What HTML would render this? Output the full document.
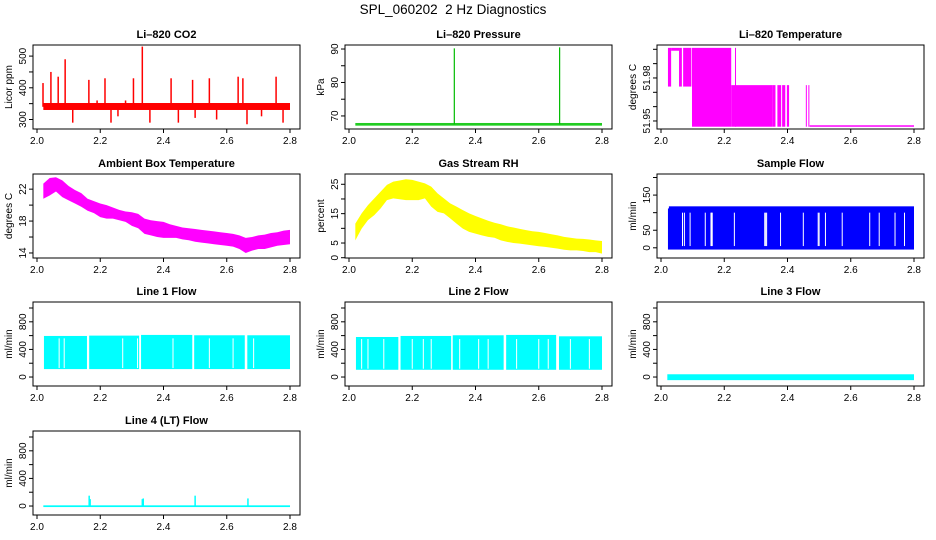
<!DOCTYPE html>
<html><head><meta charset="utf-8"><title>SPL_060202 2 Hz Diagnostics</title>
<style>
html,body{margin:0;padding:0;background:#fff;}
svg{display:block;font-family:"Liberation Sans",Arial,sans-serif;}
.tl{font-size:10px;fill:#000;}
.pt{font-size:11px;font-weight:bold;fill:#000;}
</style></head>
<body>
<svg id="chart" width="936" height="540" viewBox="0 0 936 540" xmlns="http://www.w3.org/2000/svg">
<rect x="0" y="0" width="936" height="540" fill="#fff"/>
<text x="453" y="14" text-anchor="middle" font-size="13.5">SPL_060202&#160;&#160;2 Hz Diagnostics</text>
</svg>
<script>
// ---------- data ----------
const xTicks = [2.0, 2.2, 2.4, 2.6, 2.8];
const xTickLabels = ["2.0", "2.2", "2.4", "2.6", "2.8"];
const binX = [2.02,2.04,2.06,2.08,2.10,2.12,2.14,2.16,2.18,2.20,2.22,2.24,2.26,2.28,2.30,2.32,2.34,2.36,2.38,2.40,2.42,2.44,2.46,2.48,2.50,2.52,2.54,2.56,2.58,2.60,2.62,2.64,2.66,2.68,2.70,2.72,2.74,2.76,2.78,2.80];

// CO2
const co2Base = [2.02, 2.80, 330, 352];
const co2SpikeX = [2.019,2.044,2.067,2.089,2.113,2.164,2.19,2.215,2.234,2.256,2.28,2.305,2.333,2.357,2.424,2.447,2.492,2.50,2.545,2.568,2.636,2.651,2.664,2.71,2.756,2.778];
const co2SpikeV = [415,450,435,490,290,425,360,430,290,310,360,430,530,290,430,290,425,305,430,300,435,430,285,310,435,290];

// Pressure
const presBase = [2.02, 2.80, 67.1, 67.9];
const presSpikeX = [2.333, 2.666];
const presSpikeV = [90.2, 90.5];

// Li-820 temperature: segments [x0, x1, lo, hi]
const tempSegX0 = [2.022,2.032,2.057,2.070,2.098,2.234,2.222,2.352,2.368,2.383,2.398,2.458,2.466,2.47];
const tempSegX1 = [2.032,2.057,2.066,2.096,2.222,2.236,2.352,2.362,2.380,2.393,2.405,2.461,2.469,2.80];
const tempSegLo = [51.974,51.999,51.974,51.974,51.946,51.946,51.946,51.946,51.946,51.946,51.946,51.946,51.946,51.946];
const tempSegHi = [52.001,52.001,52.001,52.001,52.001,52.001,51.975,51.975,51.975,51.975,51.975,51.975,51.975,51.947];

// Ambient box temperature
const ambHi = [22.7,23.4,23.5,23.1,22.4,21.9,21.5,20.8,20.5,20.2,20.0,19.7,19.4,19.2,19.1,18.9,18.3,18.1,18.0,17.9,17.6,17.4,17.2,17.1,17.0,16.9,16.8,16.7,16.6,16.5,16.4,16.2,15.9,16.0,16.2,16.3,16.5,16.6,16.8,16.9];
const ambLo = [20.8,21.2,21.7,21.0,20.6,20.2,19.8,19.3,19.0,18.5,18.3,18.3,18.1,17.9,17.4,17.1,16.4,16.2,16.0,15.9,15.9,15.9,15.7,15.6,15.4,15.3,15.2,15.1,15.0,14.9,14.8,14.5,14.0,14.3,14.5,14.5,14.7,14.9,15.0,15.1];

// Gas stream RH
const rhHi = [11.6,15.1,17.9,20.2,22.5,24.8,25.9,26.3,26.7,26.5,25.9,25.3,24.2,21.9,20.2,18.5,17.4,16.2,15.1,14.2,13.4,12.6,11.9,11.4,10.7,10.3,9.8,9.4,9.0,8.8,8.4,8.0,7.6,7.1,6.8,6.5,6.4,6.2,5.9,5.7];
const rhLo = [5.9,9.9,12.8,14.5,16.8,19.6,20.2,19.9,19.6,19.6,19.6,20.2,17.4,15.6,15.1,13.4,11.6,9.9,8.8,8.2,7.6,7.1,6.8,5.9,5.4,5.0,4.8,4.5,4.2,3.9,3.7,3.4,3.1,2.7,2.5,2.5,2.3,1.9,1.9,1.4];

// Sample flow
const sfBand = [2.022, 2.80, -5, 112];
const sfTop = [2.025, 2.80, 112, 122];
const sfGaps = [2.068,2.074,2.092,2.14,2.158,2.160,2.162,2.232,2.328,2.331,2.334,2.378,2.45,2.497,2.50,2.52,2.573,2.66,2.69,2.74,2.77];

// Line 1 flow segments
const l1X0 = [2.022,2.165,2.329,2.497,2.665];
const l1X1 = [2.158,2.323,2.491,2.657,2.800];
const l1Hi = [595,600,610,605,605];
const l1Lo = [115,115,115,115,115];
const l1Gaps = [2.07,2.086,2.271,2.318,2.43,2.545,2.62,2.685];

// Line 2 flow segments
const l2X0 = [2.022,2.163,2.328,2.497,2.664];
const l2X1 = [2.156,2.323,2.489,2.655,2.800];
const l2Hi = [580,595,605,610,590];
const l2Lo = [105,105,105,105,105];
const l2Gaps = [2.04,2.06,2.11,2.2,2.235,2.26,2.35,2.41,2.44,2.53,2.6,2.63,2.7,2.76];

// Line 3 flow
const l3Band = [2.02, 2.80, -45, 40];

// Line 4 flow
const l4Band = [2.02, 2.80, -15, 10];
const l4SpikeX = [2.165, 2.168, 2.333, 2.336, 2.50, 2.667];
const l4SpikeV = [150, 100, 100, 110, 150, 110];

// ---------- layout ----------
const NS = "http://www.w3.org/2000/svg";
const svg = document.getElementById('chart');
const colLeft = [33, 345, 657];
const rowTop = [45, 174, 302, 431];
const BW = 267, BH = 84;

function mk(tag, attrs, parent) {
  const e = document.createElementNS(NS, tag);
  for (const k in attrs) e.setAttribute(k, attrs[k]);
  (parent || svg).appendChild(e);
  return e;
}

function panel(col, row, title, ylab, ylim, yTicks, yLabels, name) {
  const L = colLeft[col], T = rowTop[row];
  const g = mk('g', {});
  
  
  const sx = v => L + 4 + (v - 2) / 0.8 * 253;
  const sy = v => T + BH - (v - ylim[0]) / (ylim[1] - ylim[0]) * BH;
  const plot = mk('g', {}, g);
  
  
  const box = mk('rect', {x: L, y: T, width: BW, height: BH, fill: 'none', stroke: '#000', 'stroke-width': 1}, g);
  
  
  const t = mk('text', {x: L + BW / 2, y: T - 7, 'text-anchor': 'middle', class: 'pt'}, g);
  t.textContent = title;
  
  
  const xa = mk('g', {}, g);
  
  
  mk('line', {x1: sx(xTicks[0]), x2: sx(xTicks[xTicks.length - 1]), y1: T + BH, y2: T + BH, stroke: '#000'}, xa);
  xTicks.forEach((v, i) => {
    mk('line', {x1: sx(v), x2: sx(v), y1: T + BH, y2: T + BH + 4, stroke: '#000'}, xa);
    const tx = mk('text', {x: sx(v), y: T + BH + 15, 'text-anchor': 'middle', class: 'tl'}, xa);
    tx.textContent = xTickLabels[i];
    
    
  });
  const ya = mk('g', {}, g);
  
  
  mk('line', {x1: L, x2: L, y1: sy(yTicks[0]), y2: sy(yTicks[yTicks.length - 1]), stroke: '#000'}, ya);
  yTicks.forEach(v => {
    mk('line', {x1: L - 4, x2: L, y1: sy(v), y2: sy(v), stroke: '#000'}, ya);
  });
  yLabels.forEach(lab => {
    const v = parseFloat(lab);
    const ty = mk('text', {x: 0, y: 0, 'text-anchor': 'middle', class: 'tl', transform: `translate(${L - 7},${sy(v)}) rotate(-90)`}, ya);
    ty.textContent = lab;
    
    
  });
  const yl = mk('text', {x: 0, y: 0, 'text-anchor': 'middle', class: 'tl', transform: `translate(${L - 21},${T + BH / 2}) rotate(-90)`}, g);
  yl.textContent = ylab;
  
  
  return {sx, sy, plot};
}

function rect(p, x0, x1, lo, hi, color) {
  const y1 = p.sy(hi), y2 = p.sy(lo);
  const r = mk('rect', {x: p.sx(x0), y: Math.min(y1, y2), width: Math.max(1, p.sx(x1) - p.sx(x0)), height: Math.max(1.5, Math.abs(y2 - y1)), fill: color}, p.plot);
  
  
}
function vline(p, x, v0, v1, color, w) {
  const l = mk('line', {x1: p.sx(x), x2: p.sx(x), y1: p.sy(v0), y2: p.sy(v1), stroke: color, 'stroke-width': w || 1.5}, p.plot);
  
  
}
function envelope(p, xs, hi, lo, color) {
  let pts = xs.map((x, i) => p.sx(x) + ',' + p.sy(hi[i]));
  for (let i = xs.length - 1; i >= 0; i--) pts.push(p.sx(xs[i]) + ',' + p.sy(lo[i]));
  const pg = mk('polygon', {points: pts.join(' '), fill: color}, p.plot);
  
  
}

{
  const p = panel(0, 0, 'Li\u2013820 CO2', 'Licor ppm', [270, 535], [300, 350, 400, 450, 500], ['300', '400', '500'], 'co2');
  rect(p, co2Base[0], co2Base[1], co2Base[2], co2Base[3], '#f00');
  co2SpikeX.forEach((x, i) => vline(p, x, 340, co2SpikeV[i], '#f00', 1.5));
}
{
  const p = panel(1, 0, 'Li\u2013820 Pressure', 'kPa', [66.1, 91.2], [70, 75, 80, 85, 90], ['70', '80', '90'], 'pressure');
  rect(p, presBase[0], presBase[1], presBase[2], presBase[3], '#22cc22');
  presSpikeX.forEach((x, i) => vline(p, x, 67.5, presSpikeV[i], '#00bb00', 1.2));
}
{
  const p = panel(2, 0, 'Li\u2013820 Temperature', 'degrees C', [51.9444, 52.003], [51.95, 51.96, 51.97, 51.98, 51.99, 52.0], ['51.95', '51.98'], 'li820-temperature');
  tempSegX0.forEach((x, i) => rect(p, x, tempSegX1[i], tempSegLo[i], tempSegHi[i], '#f0f'));
}
{
  const p = panel(0, 1, 'Ambient Box Temperature', 'degrees C', [13.37, 23.9], [14, 16, 18, 20, 22], ['14', '18', '22'], 'ambient-temperature');
  envelope(p, binX, ambHi, ambLo, '#f0f');
}
{
  const p = panel(1, 1, 'Gas Stream RH', 'percent', [-0.1, 28.5], [0, 5, 10, 15, 20, 25], ['0', '5', '15', '25'], 'gas-rh');
  envelope(p, binX, rhHi, rhLo, '#ffff00');
}
{
  const p = panel(2, 1, 'Sample Flow', 'ml/min', [-29, 210], [0, 50, 100, 150, 200], ['0', '50', '150'], 'sample-flow');
  rect(p, sfBand[0], sfBand[1], sfBand[2], sfBand[3], '#00f');
  rect(p, sfTop[0], sfTop[1], sfTop[2] - 10, sfTop[3] - 4, '#00f');
  sfGaps.forEach(x => vline(p, x, 5, 100, '#fff', 1));
}
const flowTicks = [0, 200, 400, 600, 800, 1000];
const flowLabels = ['0', '400', '800'];
{
  const p = panel(0, 2, 'Line 1 Flow', 'ml/min', [-130, 1087], flowTicks, flowLabels, 'line1-flow');
  l1X0.forEach((x, i) => rect(p, x, l1X1[i], l1Lo[i], l1Hi[i], '#0ff'));
  l1Gaps.forEach(x => vline(p, x, 130, 560, '#fff', 1));
}
{
  const p = panel(1, 2, 'Line 2 Flow', 'ml/min', [-130, 1087], flowTicks, flowLabels, 'line2-flow');
  l2X0.forEach((x, i) => rect(p, x, l2X1[i], l2Lo[i], l2Hi[i], '#0ff'));
  l2Gaps.forEach(x => vline(p, x, 120, 550, '#fff', 1));
}
{
  const p = panel(2, 2, 'Line 3 Flow', 'ml/min', [-130, 1087], flowTicks, flowLabels, 'line3-flow');
  rect(p, l3Band[0], l3Band[1], l3Band[2], l3Band[3], '#0ff');
}
{
  const p = panel(0, 3, 'Line 4 (LT) Flow', 'ml/min', [-130, 1087], flowTicks, flowLabels, 'line4-flow');
  rect(p, l4Band[0], l4Band[1], l4Band[2], l4Band[3], '#0ff');
  l4SpikeX.forEach((x, i) => vline(p, x, 0, l4SpikeV[i], '#0ff', 1.5));
}
</script>
</body></html>
